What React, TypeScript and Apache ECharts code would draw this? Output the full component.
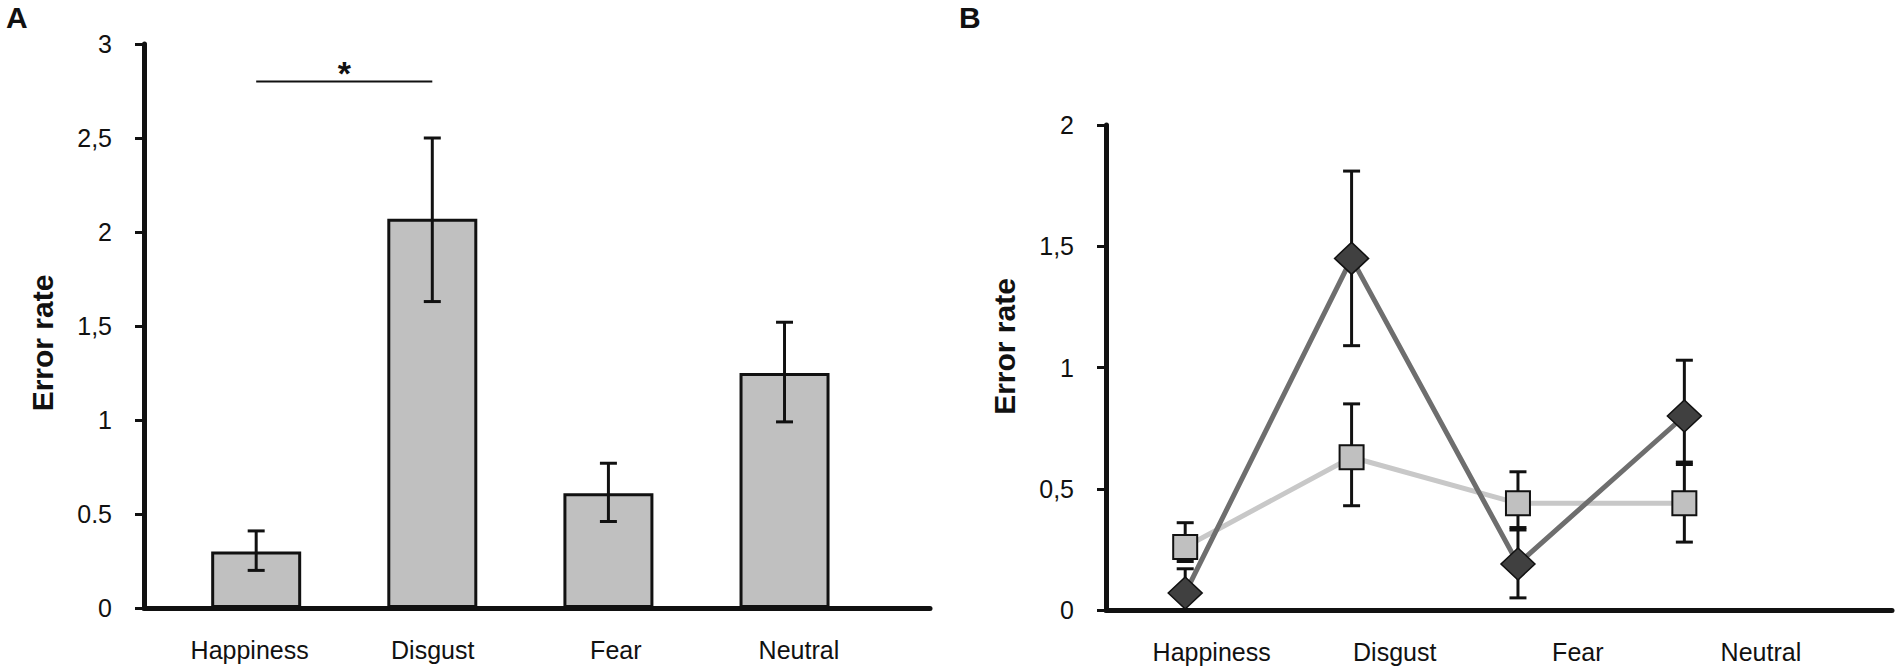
import React, { useEffect, useRef } from "react";
import * as echarts from "echarts";

const CATEGORIES = ["Happiness", "Disgust", "Fear", "Neutral"];
const A_TICKS = ["0", "0.5", "1", "1,5", "2", "2,5", "3"];
const B_TICKS = ["0", "0,5", "1", "1,5", "2"];

const A_MEAN = [0.3, 2.07, 0.61, 1.25];
const A_UPPER = [0.41, 2.5, 0.77, 1.52];
const A_LOWER = [0.2, 1.63, 0.46, 0.99];
const A_SIG = [[0, 1, 2.8]];

const B_DARK = [0.07, 1.45, 0.19, 0.8];
const B_DARK_UP = [0.17, 1.81, 0.33, 1.03];
const B_DARK_LO = [0, 1.09, 0.05, 0.61];
const B_LIGHT = [0.26, 0.63, 0.44, 0.44];
const B_LIGHT_UP = [0.36, 0.85, 0.57, 0.6];
const B_LIGHT_LO = [0.2, 0.43, 0.34, 0.28];

const FONT = "'Liberation Sans', Arial, sans-serif";
const INK = "#111";

const errRender = (params: any, api: any) => {
  const x = api.value(0);
  const top = api.coord([x, api.value(1)]);
  const bot = api.coord([x, api.value(2)]);
  const hw = 8.5;
  const st = { stroke: INK, lineWidth: 3 };
  return {
    type: "group",
    children: [
      { type: "line", shape: { x1: top[0], y1: top[1], x2: bot[0], y2: bot[1] }, style: st },
      { type: "line", shape: { x1: top[0] - hw, y1: top[1], x2: top[0] + hw, y2: top[1] }, style: st },
      { type: "line", shape: { x1: bot[0] - hw, y1: bot[1], x2: bot[0] + hw, y2: bot[1] }, style: st },
    ],
  };
};

const sigRender = (params: any, api: any) => {
  const p1 = api.coord([api.value(0), api.value(2)]);
  const p2 = api.coord([api.value(1), api.value(2)]);
  return {
    type: "group",
    children: [
      { type: "line", shape: { x1: p1[0], y1: p1[1], x2: p2[0], y2: p2[1] }, style: { stroke: INK, lineWidth: 2 } },
      {
        type: "text",
        x: (p1[0] + p2[0]) / 2,
        y: p1[1] - 9,
        style: { text: "*", fill: INK, font: `bold 34px ${FONT}`, align: "center", verticalAlign: "middle" },
      },
    ],
  };
};

const yAxisBase = (grid: number, max: number, ticks: string[], padding: number[]) => ({
  gridIndex: grid,
  type: "value",
  min: 0,
  max,
  interval: 0.5,
  axisLine: { show: true, onZero: false, lineStyle: { color: INK, width: 5 } },
  axisTick: { show: true, length: 9, lineStyle: { color: INK, width: 3 } },
  splitLine: { show: false },
  axisLabel: {
    margin: 32,
    fontSize: 25,
    color: INK,
    fontFamily: FONT,
    formatter: (v: number) => ticks[Math.round(v / 0.5)],
  },
  name: "Error rate",
  nameLocation: "middle",
  nameGap: 87,
  nameRotate: 90,
  nameTextStyle: { fontSize: 30, fontWeight: "bold", color: INK, fontFamily: FONT, padding },
});

const labelAxis = (grid: number) => ({
  gridIndex: grid,
  type: "value",
  position: "bottom",
  min: -0.577,
  max: 3.716,
  axisLine: { show: true, onZero: false, lineStyle: { color: INK, width: 5 } },
  axisTick: { show: false },
  splitLine: { show: false },
  axisLabel: {
    customValues: [0, 1, 2, 3],
    margin: 29,
    fontSize: 25,
    color: INK,
    fontFamily: FONT,
    formatter: (v: number) => CATEGORIES[Math.round(v)],
  },
});

export default function App() {
  const ref = useRef<HTMLDivElement>(null);
  useEffect(() => {
    if (!ref.current) return;
    const chart = echarts.init(ref.current, null, { renderer: "svg" });
    const idx = CATEGORIES.map((_, i) => i);
    chart.setOption({
      animation: false,
      backgroundColor: "#fff",
      title: [
        { text: "A", left: 6, top: 2, padding: 0, textStyle: { fontSize: 30, fontWeight: "bold", color: INK, fontFamily: FONT } },
        { text: "B", left: 959, top: 2, padding: 0, textStyle: { fontSize: 30, fontWeight: "bold", color: INK, fontFamily: FONT } },
      ],
      grid: [
        { left: 144, top: 44, width: 786, height: 564, outerBoundsMode: "none" },
        { left: 1106, top: 125, width: 786, height: 485, outerBoundsMode: "none" },
      ],
      xAxis: [
        { gridIndex: 0, type: "value", min: -0.637, max: 3.826, show: false, position: "bottom" },
        labelAxis(0),
        { gridIndex: 1, type: "value", min: -0.476, max: 4.248, show: false, position: "bottom" },
        labelAxis(1),
      ],
      yAxis: [yAxisBase(0, 3, A_TICKS, [0, 34, 0, 0]), yAxisBase(1, 2, B_TICKS, [0, 0, 0, 42])],
      series: [
        {
          type: "bar",
          xAxisIndex: 0,
          yAxisIndex: 0,
          barWidth: 90,
          data: idx.map((i) => [i, A_MEAN[i]]),
          itemStyle: { color: "#c0c0c0", borderColor: INK, borderWidth: 3 },
          z: 2,
        },
        {
          type: "custom",
          xAxisIndex: 0,
          yAxisIndex: 0,
          renderItem: errRender,
          data: idx.map((i) => [i, A_UPPER[i], A_LOWER[i]]),
          encode: { x: 0, y: [1, 2] },
          z: 3,
        },
        {
          type: "custom",
          xAxisIndex: 0,
          yAxisIndex: 0,
          renderItem: sigRender,
          data: A_SIG,
          encode: { x: [0, 1], y: 2 },
          z: 3,
        },
        {
          type: "line",
          xAxisIndex: 2,
          yAxisIndex: 1,
          showSymbol: false,
          data: idx.map((i) => [i, B_LIGHT[i]]),
          lineStyle: { color: "#c8c8c8", width: 5 },
          z: 1,
        },
        {
          type: "line",
          xAxisIndex: 2,
          yAxisIndex: 1,
          showSymbol: false,
          data: idx.map((i) => [i, B_DARK[i]]),
          lineStyle: { color: "#6e6e6e", width: 5 },
          z: 1,
        },
        {
          type: "custom",
          xAxisIndex: 2,
          yAxisIndex: 1,
          renderItem: errRender,
          data: idx.map((i) => [i, B_LIGHT_UP[i], B_LIGHT_LO[i]]),
          encode: { x: 0, y: [1, 2] },
          z: 2,
        },
        {
          type: "custom",
          xAxisIndex: 2,
          yAxisIndex: 1,
          renderItem: errRender,
          data: idx.map((i) => [i, B_DARK_UP[i], B_DARK_LO[i]]),
          encode: { x: 0, y: [1, 2] },
          z: 2,
        },
        {
          type: "scatter",
          xAxisIndex: 2,
          yAxisIndex: 1,
          symbol: "rect",
          symbolSize: 24,
          data: idx.map((i) => [i, B_LIGHT[i]]),
          itemStyle: { color: "#c0c0c0", borderColor: INK, borderWidth: 2, opacity: 1 },
          z: 3,
        },
        {
          type: "scatter",
          xAxisIndex: 2,
          yAxisIndex: 1,
          symbol: "diamond",
          symbolSize: [34, 32],
          data: idx.map((i) => [i, B_DARK[i]]),
          itemStyle: { color: "#404040", borderColor: INK, borderWidth: 1.5, opacity: 1 },
          z: 4,
        },
      ],
    });
    return () => chart.dispose();
  }, []);
  return (
    <div
      ref={ref}
      style={{ position: "absolute", left: 0, top: 0, width: 1900, height: 672, background: "#fff" }}
    />
  );
}
